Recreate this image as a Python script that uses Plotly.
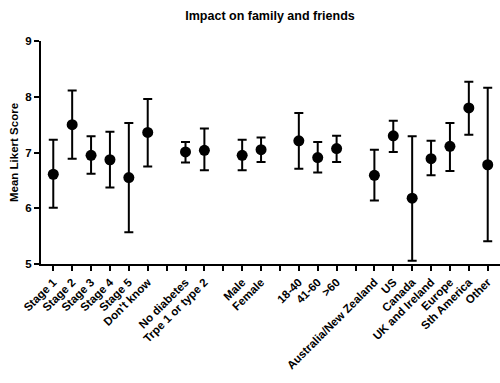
import plotly.graph_objects as go

categories = ["Stage 1", "Stage 2", "Stage 3", "Stage 4", "Stage 5", "Don't know", " ",
              "No diabetes", "Trpe 1 or type 2", "  ",
              "Male", "Female", "   ",
              "18-40", "41-60", ">60", "    ",
              "Australia/New Zealand", "US", "Canada", "UK and Ireland", "Europe",
              "Sth America", "Other"]

labels = ["Stage 1", "Stage 2", "Stage 3", "Stage 4", "Stage 5", "Don't know",
          "No diabetes", "Trpe 1 or type 2",
          "Male", "Female",
          "18-40", "41-60", ">60",
          "Australia/New Zealand", "US", "Canada", "UK and Ireland", "Europe",
          "Sth America", "Other"]
means = [6.61, 7.50, 6.95, 6.87, 6.55, 7.36,
         7.01, 7.04,
         6.95, 7.05,
         7.21, 6.91, 7.07,
         6.59, 7.30, 6.18, 6.89, 7.11, 7.80, 6.78]
upper = [7.23, 8.11, 7.29, 7.37, 7.53, 7.96,
         7.19, 7.43,
         7.23, 7.27,
         7.71, 7.19, 7.30,
         7.05, 7.57, 7.29, 7.21, 7.53, 8.27, 8.16]
lower = [6.01, 6.89, 6.62, 6.37, 5.57, 6.75,
         6.82, 6.68,
         6.68, 6.83,
         6.71, 6.64, 6.83,
         6.14, 7.01, 5.06, 6.59, 6.67, 7.32, 5.41]

err_plus = [u - m for u, m in zip(upper, means)]
err_minus = [m - l for m, l in zip(means, lower)]

font_family = "Liberation Sans, Arial, sans-serif"

fig = go.Figure()
fig.add_trace(go.Scatter(
    x=labels, y=means, mode="markers",
    marker=dict(color="black", size=11, symbol="circle"),
    error_y=dict(type="data", symmetric=False, array=err_plus, arrayminus=err_minus,
                 color="black", thickness=2, width=4.5),
    showlegend=False, hoverinfo="skip",
))

fig.update_layout(
    width=500, height=383,
    margin=dict(l=41, r=0, t=41, b=119),
    paper_bgcolor="white", plot_bgcolor="white",
    title=dict(text="Impact on family and friends", x=0.54, xanchor="center", y=0.96, yanchor="middle",
               font=dict(family=font_family, size=12.5, color="black", weight="bold")),
    font=dict(family=font_family, color="black"),
)
fig.update_xaxes(
    type="category", categoryorder="array", categoryarray=categories,
    range=[-0.65, 23.65],
    showline=True, linecolor="black", linewidth=2,
    ticks="outside", ticklen=5, tickwidth=2, tickcolor="black",
    tickangle=-45,
    tickfont=dict(family=font_family, size=11.5, color="black", weight="bold"),
    showgrid=False, zeroline=False,
)
fig.update_yaxes(
    range=[5, 9], tickvals=[5, 6, 7, 8, 9],
    showline=True, linecolor="black", linewidth=2,
    ticks="outside", ticklen=5, tickwidth=2, tickcolor="black",
    tickfont=dict(family=font_family, size=11.5, color="black", weight="bold"),
    title=dict(text="Mean Likert Score", standoff=4,
               font=dict(family=font_family, size=11.5, color="black", weight="bold")),
    showgrid=False, zeroline=False,
)

fig.write_html("out.html", config={"displayModeBar": False},
               post_script="document.body.style.margin='0';document.body.style.padding='0';")
